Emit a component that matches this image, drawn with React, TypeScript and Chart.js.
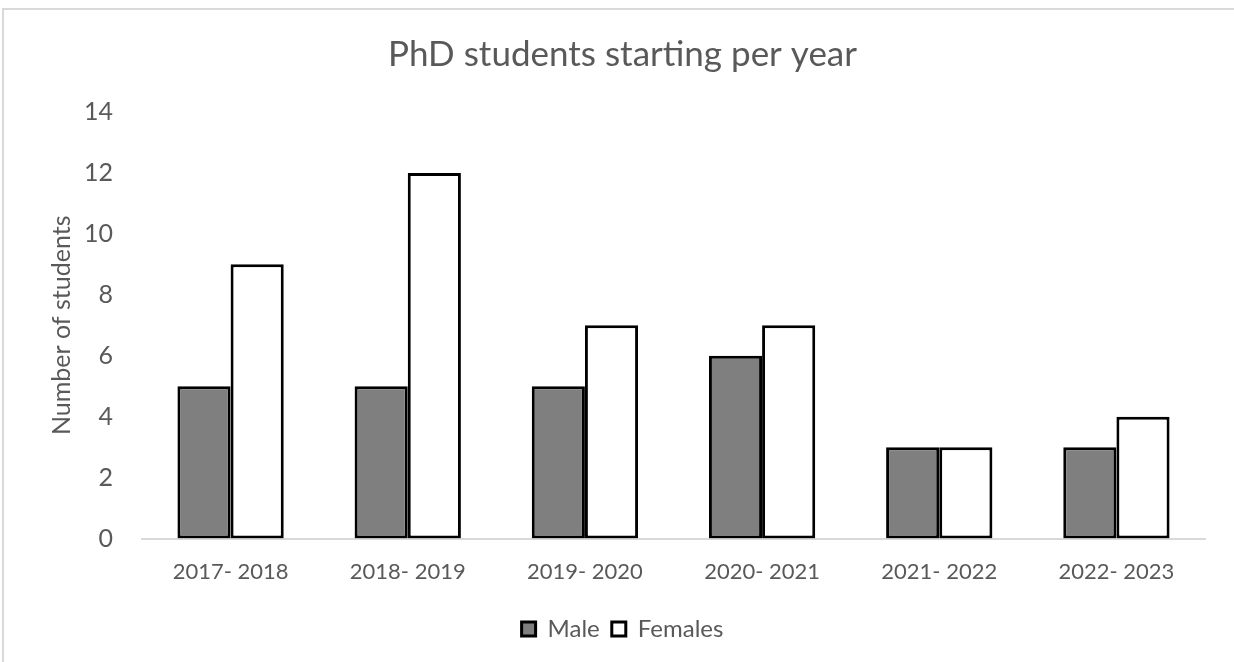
import React, { useEffect, useRef } from "react";
import { Chart, registerables } from "chart.js";

Chart.register(...registerables);

const categories = ["2017- 2018", "2018- 2019", "2019- 2020", "2020- 2021", "2021- 2022", "2022- 2023"];
const maleValues = [5, 5, 5, 6, 3, 3];
const femaleValues = [9, 12, 7, 7, 3, 4];
const yTickValues = [0, 2, 4, 6, 8, 10, 12, 14];

const FONT = "Lato, 'Open Sans', sans-serif";
const TEXT = "#595959";

export default function App() {
  const ref = useRef<HTMLCanvasElement | null>(null);

  useEffect(() => {
    if (!ref.current) return;
    const chart = new Chart(ref.current, {
      type: "bar",
      data: {
        labels: categories,
        datasets: [
          {
            label: "Male",
            data: maleValues,
            backgroundColor: "#7f7f7f",
            borderColor: "#000000",
            borderWidth: 3,
            borderSkipped: false,
            barPercentage: 1,
            categoryPercentage: 0.6,
          },
          {
            label: "Females",
            data: femaleValues,
            backgroundColor: "#ffffff",
            borderColor: "#000000",
            borderWidth: 3,
            borderSkipped: false,
            barPercentage: 1,
            categoryPercentage: 0.6,
          },
        ],
      },
      options: {
        responsive: false,
        animation: false,
        layout: { padding: { left: 40, right: 29, top: 0, bottom: 11 } },
        plugins: {
          title: {
            display: true,
            text: "PhD students starting per year",
            color: TEXT,
            font: { family: FONT, size: 35, weight: "normal" },
            padding: { top: 34, bottom: 36 },
          },
          legend: {
            position: "bottom",
            labels: {
              color: TEXT,
              font: { family: FONT, size: 24 },
              boxWidth: 14,
              boxHeight: 14,
              padding: 12,
            },
          },
          tooltip: { enabled: false },
        },
        scales: {
          x: {
            grid: { display: false, drawTicks: false },
            border: { display: true, color: "#d9d9d9", width: 2 },
            ticks: {
              color: TEXT,
              font: { family: FONT, size: 22 },
              padding: 20,
              maxRotation: 0,
            },
          },
          y: {
            min: 0,
            max: 14,
            afterFit: (scale: any) => {
              scale.width = 102;
            },
            afterBuildTicks: (scale: any) => {
              scale.ticks = yTickValues.map((v) => ({ value: v }));
            },
            grid: { display: false, drawTicks: false },
            border: { display: false },
            ticks: {
              color: TEXT,
              font: { family: FONT, size: 25 },
              padding: 29,
            },
            title: {
              display: true,
              text: "Number of students",
              color: TEXT,
              font: { family: FONT, size: 25 },
              padding: { top: 7, bottom: 0 },
            },
          },
        },
      },
    });
    return () => chart.destroy();
  }, []);

  return (
    <div style={{ position: "fixed", left: 0, top: 0, width: 1234, height: 662, background: "#ffffff", overflow: "hidden" }}>
      <div
        style={{
          position: "absolute",
          left: 2,
          top: 8,
          width: 1300,
          height: 700,
          border: "2px solid #d9d9d9",
        }}
      />
      <canvas ref={ref} width={1234} height={662} style={{ position: "absolute", left: 0, top: 0, width: 1234, height: 662 }} />
    </div>
  );
}
